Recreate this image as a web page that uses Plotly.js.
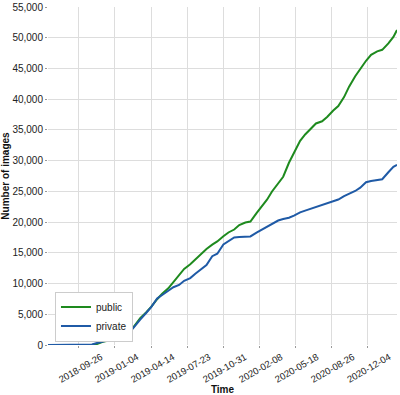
<!DOCTYPE html>
<html>
<head>
<meta charset="utf-8">
<script src="https://cdn.plot.ly/plotly-3.0.1.min.js"></script>
<style>html,body{margin:0;padding:0;background:#fff;}#chart{width:400px;height:395px;}</style>
</head>
<body>
<div id="chart"></div>
<script>
const dates = ["2018-07-02","2018-08-01","2018-09-01","2018-10-01","2018-10-15","2018-11-01","2018-11-15","2018-12-01","2018-12-15",
"2019-01-01","2019-01-15","2019-02-01","2019-02-15","2019-03-01","2019-03-15","2019-04-01","2019-04-15","2019-05-01","2019-05-15",
"2019-06-01","2019-06-15","2019-07-01","2019-07-15","2019-08-01","2019-08-15","2019-09-01","2019-09-15","2019-10-01","2019-10-15",
"2019-11-01","2019-11-15","2019-12-01","2019-12-15","2020-01-01","2020-01-15","2020-02-01","2020-02-15","2020-03-01","2020-03-15",
"2020-04-01","2020-04-15","2020-05-01","2020-05-15","2020-06-01","2020-06-15","2020-07-01","2020-07-15","2020-08-01","2020-08-15",
"2020-09-01","2020-09-15","2020-10-01","2020-10-15","2020-11-01","2020-11-15","2020-12-01","2020-12-15","2021-01-01","2021-01-15",
"2021-02-01","2021-02-15","2021-02-25"];
const publicImages = [0,0,0,0,0,0,160,520,680,
840,970,1220,2200,3240,4370,5350,6240,7450,8340,
9230,10200,11420,12390,13150,13960,14820,15630,16330,16850,
17690,18310,18790,19520,19930,20090,21470,22520,23650,24980,
26410,27380,29650,31270,33210,34260,35240,36050,36400,37100,
38150,38880,40340,42040,43740,44960,46250,47220,47790,48030,
49090,50140,51250];
const privateImages = [0,0,0,0,30,80,320,580,810,
1000,1120,1360,2150,3220,4130,5250,6220,7560,8070,
8830,9400,9770,10450,10890,11580,12340,13020,14450,14860,
16360,16930,17500,17580,17580,17660,18270,18740,19310,19760,
20250,20490,20700,21060,21590,21870,22180,22440,22790,23090,
23390,23670,24220,24620,25060,25600,26490,26700,26840,26970,
28110,29000,29320];
const tickDates = ["2018-09-26","2019-01-04","2019-04-14","2019-07-23","2019-10-31","2020-02-08","2020-05-18","2020-08-26","2020-12-04"];
const yTicks = [0,5000,10000,15000,20000,25000,30000,35000,40000,45000,50000,55000];
const yTickText = ["0","5,000","10,000","15,000","20,000","25,000","30,000","35,000","40,000","45,000","50,000","55,000"];

const data = [
  {x: dates, y: publicImages, name: "public", type: "scatter", mode: "lines",
   line: {color: "#1e8a1e", width: 2}},
  {x: dates, y: privateImages, name: "private", type: "scatter", mode: "lines",
   line: {color: "#1f5aa6", width: 2}}
];
const layout = {
  width: 400, height: 395,
  margin: {l: 48, r: 3, t: 7, b: 50},
  paper_bgcolor: "#fff", plot_bgcolor: "#fff",
  font: {family: "Liberation Sans, Arial, sans-serif", size: 10, color: "#222"},
  showlegend: true,
  legend: {x: 0.02, y: 0.01, xanchor: "left", yanchor: "bottom",
    bgcolor: "#fff", bordercolor: "#cccccc", borderwidth: 1,
    font: {size: 10, color: "#222"}, tracegroupgap: 0, itemwidth: 30},
  xaxis: {
    type: "date", range: ["2018-07-02", "2021-02-25"],
    tickvals: tickDates, ticktext: tickDates, tickangle: -30,
    ticklabelshift: 22, ticklabelstandoff: 0,
    tickfont: {size: 9.5},
    showgrid: true, gridcolor: "#dddddd", gridwidth: 1,
    ticks: "outside", ticklen: 2, tickcolor: "#999",
    showline: false, zeroline: false,
    title: {text: "<b>Time</b>", font: {size: 10, color: "#111"}, standoff: 2}
  },
  yaxis: {
    range: [0, 55000], tickvals: yTicks, ticktext: yTickText,
    showgrid: true, gridcolor: "#dddddd", gridwidth: 1,
    ticks: "outside", ticklen: 2, tickcolor: "#999",
    showline: false, zeroline: false,
    title: {text: "<b>Number of images</b>", font: {size: 10, color: "#111"}, standoff: 4}
  }
};
Plotly.newPlot("chart", data, layout, {displayModeBar: false, staticPlot: true});
</script>
</body>
</html>
